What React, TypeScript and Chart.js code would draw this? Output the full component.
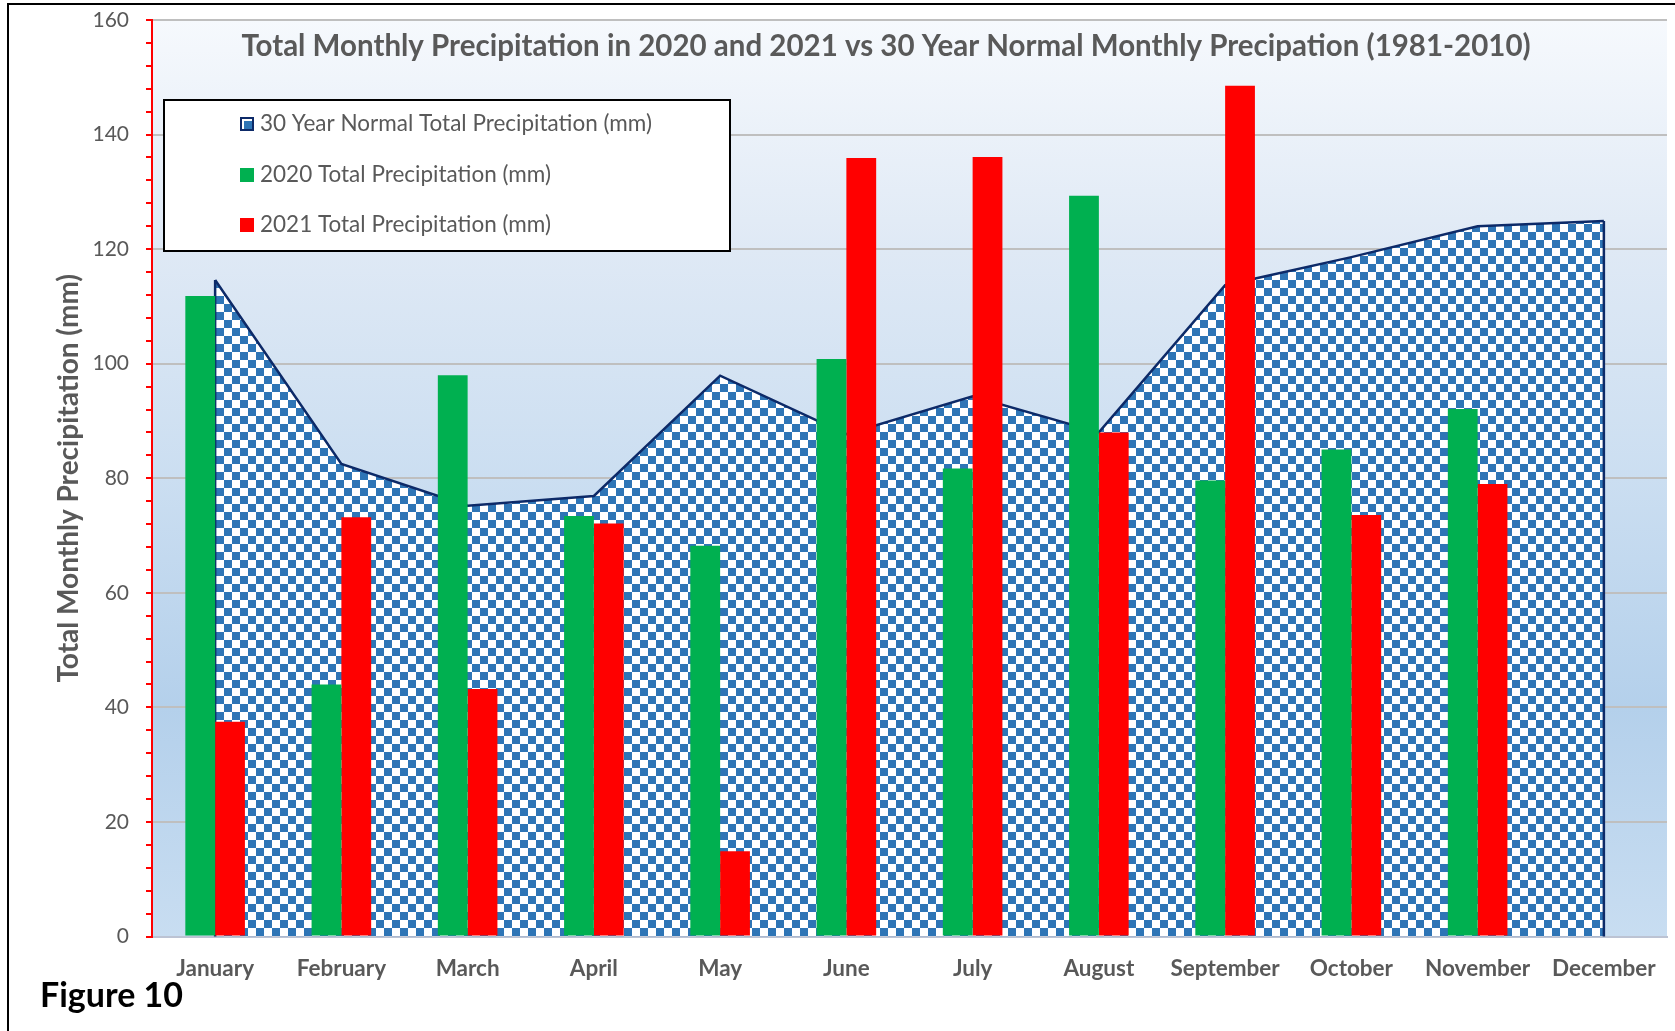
import React, { useEffect, useRef } from 'react';
import { Chart, registerables } from 'chart.js';

Chart.register(...registerables);

// ---------- data ----------
const months = ['January', 'February', 'March', 'April', 'May', 'June', 'July', 'August', 'September', 'October', 'November', 'December'];
const normalPrecip = [114.6, 82.5, 75.2, 76.9, 97.9, 87.7, 94.3, 88.0, 113.7, 118.6, 124.0, 124.9];
const precip2020 = [111.8, 44.0, 98.0, 73.4, 68.2, 100.8, 81.7, 129.3, 79.6, 85.0, 92.1, null];
const precip2021 = [37.5, 73.2, 43.2, 72.1, 14.9, 135.9, 136.1, 88.0, 148.5, 73.6, 79.0, null];
const seriesLabels = ['30 Year Normal Total Precipitation (mm)', '2020 Total Precipitation (mm)', '2021 Total Precipitation (mm)'];
const chartTitle = 'Total Monthly Precipitation in 2020 and 2021 vs 30 Year Normal Monthly Precipation (1981-2010)';
const yAxisTitle = 'Total Monthly Precipitation (mm)';
const figureLabel = 'Figure 10';
const yMin = 0;
const yMax = 160;
const yMajorStep = 20;
const yMinorStep = 4;

const FONT = 'Lato, "Noto Sans", sans-serif';
const GRAY = '#595959';
const NAVY = '#0d2a68';
const BLUE = '#2e75b6';
const GREEN = '#00b050';
const RED = '#ff0000';

function makeChecker(): CanvasPattern | string {
  const c = document.createElement('canvas');
  c.width = 16;
  c.height = 16;
  const g = c.getContext('2d');
  if (!g) return BLUE;
  g.fillStyle = '#ffffff';
  g.fillRect(0, 0, 16, 16);
  g.fillStyle = BLUE;
  g.fillRect(0, 0, 8, 8);
  g.fillRect(8, 8, 8, 8);
  const p = g.createPattern(c, 'repeat');
  return p || BLUE;
}

const plotBackground = {
  id: 'plotBackground',
  beforeDraw(chart: any) {
    const { ctx, chartArea: a } = chart;
    ctx.save();
    ctx.fillStyle = '#ffffff';
    ctx.fillRect(0, 0, chart.width, chart.height);
    const g = ctx.createLinearGradient(0, a.top, 0, a.bottom);
    g.addColorStop(0, '#f6f9fd');
    g.addColorStop(0.25, '#dfe9f5');
    g.addColorStop(0.5, '#cbdef1');
    g.addColorStop(0.75, '#b4d0eb');
    g.addColorStop(1, '#c8ddf1');
    ctx.fillStyle = g;
    ctx.fillRect(a.left, a.top, a.right - a.left, a.bottom - a.top);
    ctx.restore();
  },
};

const areaEdges = {
  id: 'areaEdges',
  afterDatasetDraw(chart: any, args: any) {
    if (args.index !== 0) return;
    const pts = args.meta.data;
    if (!pts || !pts.length) return;
    const ctx = chart.ctx;
    const y0 = chart.scales.y.getPixelForValue(0);
    ctx.save();
    ctx.strokeStyle = NAVY;
    ctx.lineWidth = 2.5;
    ctx.beginPath();
    ctx.moveTo(pts[0].x, pts[0].y);
    ctx.lineTo(pts[0].x, y0);
    const last = pts[pts.length - 1];
    ctx.moveTo(last.x, last.y);
    ctx.lineTo(last.x, y0);
    ctx.stroke();
    ctx.restore();
  },
};

const overlays = {
  id: 'overlays',
  afterDraw(chart: any) {
    const ctx = chart.ctx;
    ctx.save();
    // frame
    ctx.strokeStyle = '#000000';
    ctx.lineWidth = 2;
    ctx.beginPath();
    ctx.moveTo(8, chart.height);
    ctx.lineTo(8, 4);
    ctx.lineTo(chart.width, 4);
    ctx.stroke();

    // title
    ctx.fillStyle = GRAY;
    ctx.font = `bold 29.5px ${FONT}`;
    ctx.textAlign = 'center';
    ctx.textBaseline = 'middle';
    ctx.fillText(chartTitle, 886, 46);

    // legend box
    ctx.fillStyle = '#ffffff';
    ctx.fillRect(164, 100, 566, 151);
    ctx.strokeStyle = '#000000';
    ctx.lineWidth = 2;
    ctx.strokeRect(164, 100, 566, 151);

    const rows = [124, 175, 225];
    const ds = chart.data.datasets;
    ctx.font = `22.5px ${FONT}`;
    ctx.textAlign = 'left';
    ctx.textBaseline = 'middle';
    rows.forEach((ry: number, i: number) => {
      const mx = 240;
      const my = ry - 7;
      if (i === 0) {
        ctx.fillStyle = NAVY;
        ctx.fillRect(mx, my, 14, 14);
        ctx.fillStyle = '#ffffff';
        ctx.fillRect(mx + 2, my + 2, 10, 10);
        ctx.fillStyle = BLUE;
        ctx.fillRect(mx + 4, my + 4, 8, 8);
      } else {
        ctx.fillStyle = ds[i].backgroundColor;
        ctx.fillRect(mx, my, 14, 14);
      }
      ctx.fillStyle = GRAY;
      ctx.fillText(ds[i].label, 260, ry);
    });

    // figure label
    ctx.fillStyle = '#000000';
    ctx.font = `bold 34px ${FONT}`;
    ctx.textAlign = 'left';
    ctx.textBaseline = 'middle';
    ctx.fillText(figureLabel, 40, 996);
    ctx.restore();
  },
};

export default function App() {
  const ref = useRef<HTMLCanvasElement | null>(null);

  useEffect(() => {
    if (!ref.current) return;
    const pattern = makeChecker();
    const chart = new Chart(ref.current, {
      type: 'bar',
      data: {
        labels: months,
        datasets: [
          {
            type: 'line',
            label: seriesLabels[0],
            data: normalPrecip,
            backgroundColor: pattern as any,
            borderColor: NAVY,
            borderWidth: 2.5,
            fill: 'origin',
            pointRadius: 0,
            tension: 0,
            order: 3,
          } as any,
          {
            type: 'bar',
            label: seriesLabels[1],
            data: precip2020,
            backgroundColor: GREEN,
            borderWidth: 0,
            barPercentage: 1,
            categoryPercentage: 0.472,
            order: 1,
          },
          {
            type: 'bar',
            label: seriesLabels[2],
            data: precip2021,
            backgroundColor: RED,
            borderWidth: 0,
            barPercentage: 1,
            categoryPercentage: 0.472,
            order: 1,
          },
        ],
      },
      options: {
        responsive: false,
        animation: false,
        layout: { padding: { left: 0, right: 8, top: 20, bottom: 0 } },
        plugins: {
          legend: { display: false },
          tooltip: { enabled: false },
          title: { display: false },
        },
        scales: {
          x: {
            offset: true,
            grid: { display: false, drawTicks: false },
            border: { display: true, color: '#bcc3d3', width: 2 },
            ticks: {
              color: GRAY,
              font: { family: FONT, size: 22.5, weight: 'bold' },
              padding: 19,
              maxRotation: 0,
              autoSkip: false,
            },
            afterFit: (s: any) => {
              s.height = 94.5;
              s.paddingLeft = 0;
              s.paddingRight = 0;
            },
          },
          y: {
            min: yMin,
            max: yMax,
            ticks: {
              stepSize: yMinorStep,
              autoSkip: false,
              color: GRAY,
              font: { family: FONT, size: 21 },
              padding: 17,
              callback: (v: any) => (Number(v) % yMajorStep === 0 ? String(v) : ''),
            },
            grid: {
              color: (c: any) => (c.tick && c.tick.value % yMajorStep === 0 ? '#bfbfbf' : 'rgba(0,0,0,0)'),
              lineWidth: 2,
              drawTicks: true,
              tickColor: RED,
              tickLength: 6,
              tickWidth: 2,
            },
            border: { display: true, color: RED, width: 2 },
            title: {
              display: true,
              text: yAxisTitle,
              color: GRAY,
              font: { family: FONT, size: 28, weight: 'bold' },
              padding: { top: 52, bottom: 0 },
            },
            afterFit: (s: any) => {
              s.width = 152;
              s.paddingTop = 0;
              s.paddingBottom = 0;
            },
          },
        },
      } as any,
      plugins: [plotBackground, areaEdges, overlays],
    });
    return () => chart.destroy();
  }, []);

  return (
    <div style={{ position: 'fixed', left: 0, top: 0, width: 1675, height: 1031, background: '#ffffff' }}>
      <canvas ref={ref} width={1675} height={1031} style={{ display: 'block', width: 1675, height: 1031 }} />
    </div>
  );
}
